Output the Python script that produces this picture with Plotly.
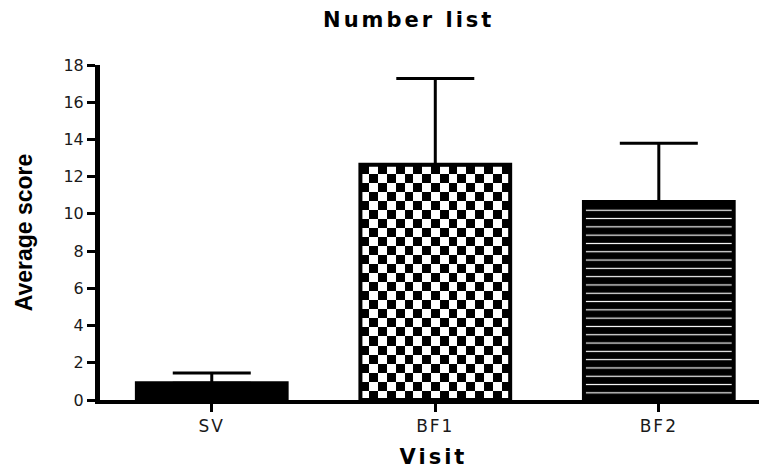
import numpy as np
import plotly.graph_objects as go

# ---- data ----
categories = ["SV", "BF1", "BF2"]
means = [0.9, 12.64, 10.64]
errors_up = [0.55, 4.64, 3.15]
y_ticks = [0, 2, 4, 6, 8, 10, 12, 14, 16, 18]

# ---- style ----
BAR_W = 0.67
x_pos = list(range(len(categories)))
FONT = "DejaVu Sans"
ARIAL = "Liberation Sans, Arial, sans-serif"

# the page body adds an 8px offset; the figure is sized to fill the rest
FIG_W, FIG_H = 759, 464

fig = go.Figure()

# checkerboard texture for BF1 (drawn underneath a hollow bar)
ci = 1
nx, ny = 17, 26
xe = np.linspace(x_pos[ci] - BAR_W / 2, x_pos[ci] + BAR_W / 2, nx + 1)
ye = np.linspace(0, means[ci], ny + 1)
z = np.add.outer(np.arange(ny), np.arange(nx)) % 2
fig.add_trace(go.Heatmap(
    x=xe, y=ye, z=z, zmin=0, zmax=1,
    colorscale=[[0, "white"], [1, "black"]],
    showscale=False, hoverinfo="skip",
))

fills = ["black", "rgba(0,0,0,0)", "black"]
patterns = [
    dict(shape=""),
    dict(shape=""),
    dict(shape="-", fgcolor="white", bgcolor="black", size=8.3,
         solidity=0.14, fillmode="replace"),
]
for k in range(len(categories)):
    fig.add_trace(go.Bar(
        x=[x_pos[k]], y=[means[k]], width=BAR_W,
        marker=dict(color=fills[k], line=dict(color="black", width=4),
                    pattern=patterns[k]),
        error_y=dict(type="data", symmetric=False, array=[errors_up[k]],
                     arrayminus=[0], color="black", thickness=3, width=39),
        showlegend=False, name=categories[k],
    ))

fig.update_layout(
    width=FIG_W, height=FIG_H,
    margin=dict(l=92, r=0, t=57, b=72),
    paper_bgcolor="white", plot_bgcolor="white",
    barmode="overlay",
    showlegend=False,
    title=dict(
        text='<span style="letter-spacing:3px">Number list</span>',
        x=0.528, xanchor="center", xref="container",
        y=1 - 12 / FIG_H, yanchor="middle", yref="container",
        font=dict(family=FONT, size=21, color="black", weight="bold"),
    ),
    xaxis=dict(
        range=[-0.5, 2.484],
        tickmode="array", tickvals=x_pos,
        ticktext=['<span style="letter-spacing:2px">%s</span>' % c for c in categories],
        ticks="outside", ticklen=8, tickwidth=3, tickcolor="black",
        showline=True, linewidth=4, linecolor="black",
        showgrid=False, zeroline=False,
        tickfont=dict(family=FONT, size=17, color="#1a1a1a"),
        title=dict(text='<span style="letter-spacing:3px">Visit</span>', standoff=15,
                   font=dict(family=FONT, size=21, color="black", weight="bold")),
    ),
    yaxis=dict(
        range=[0, 18],
        tickmode="array", tickvals=y_ticks,
        ticks="outside", ticklen=8, tickwidth=3, tickcolor="black",
        showline=True, linewidth=5, linecolor="black",
        showgrid=False, zeroline=False,
        tickfont=dict(family=FONT, size=16, color="#1a1a1a"),
        title=dict(text="Average score", standoff=26,
                   font=dict(family=ARIAL, size=23, color="black", weight="bold")),
    ),
)

fig.write_html("out.html")
